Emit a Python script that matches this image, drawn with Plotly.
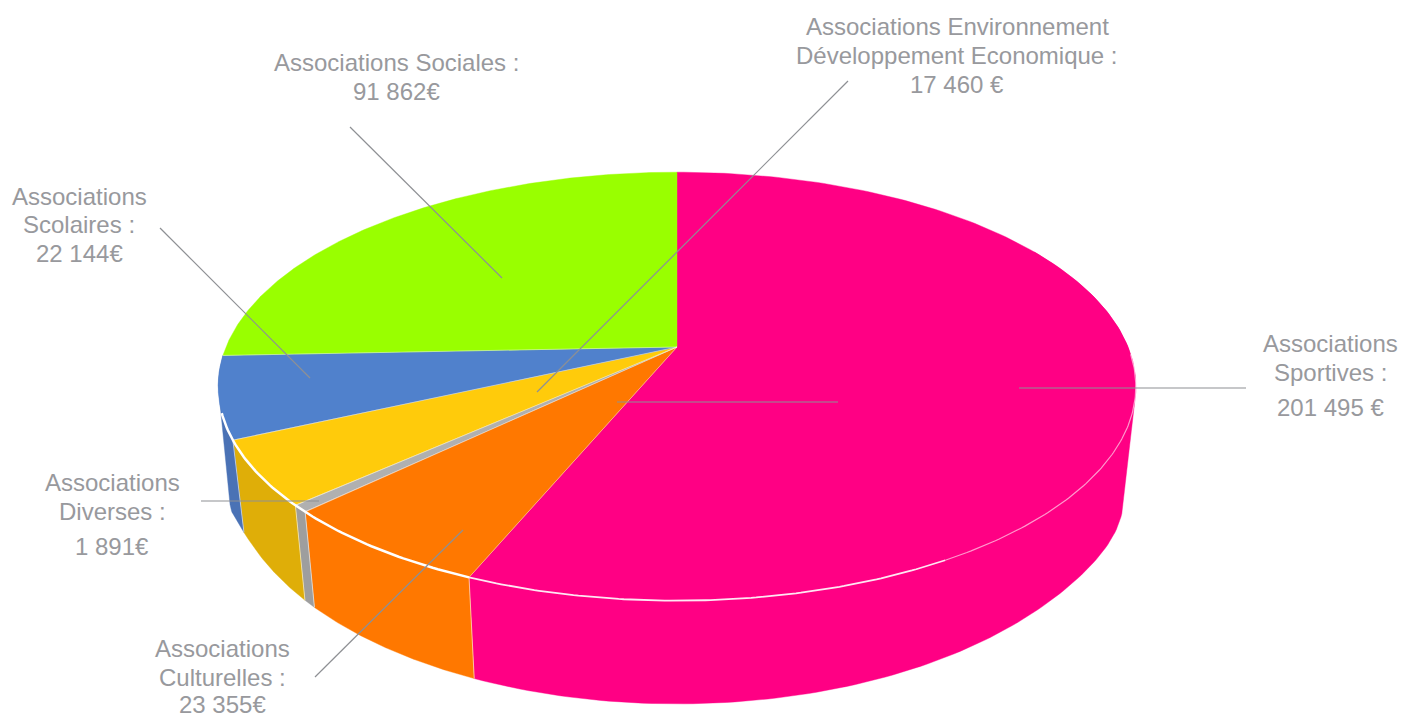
import numpy as np
import plotly.graph_objects as go

# ---- data ----
categories = ["Associations Sportives", "Associations Culturelles", "Associations Diverses",
              "Associations Environnement Développement Economique",
              "Associations Scolaires", "Associations Sociales"]
values = [201495, 23355, 1891, 17460, 22144, 91862]
top_colors = ["#FF0084", "#FF7800", "#B0B0B0", "#FFCB0B", "#5081CC", "#99FF00"]
side_colors = ["#FF0084", "#FF7800", "#9E9E9E", "#DFAE08", "#4A72B5", "#99FF00"]
label_lines = [
    (["Associations", "Sportives :", "201 495 €"], 1330, [343, 372, 407]),
    (["Associations", "Culturelles :", "23 355€"], 222, [648, 677, 704]),
    (["Associations", "Diverses :", "1 891€"], 112, [482, 511, 546]),
    (["Associations Environnement", "Développement Economique :", "17 460 €"], 957, [26, 55, 84]),
    (["Associations", "Scolaires :", "22 144€"], 79, [196, 224, 253]),
    (["Associations Sociales :", "91 862€"], 396, [62, 91]),
]
leaders = [
    (1019, 388, 1246, 388), (617, 402, 838, 402), (315, 677, 463, 530), (201, 501, 319, 501),
    (848, 81, 537, 392), (160, 228, 310, 378), (350, 127, 502, 278),
]

# ---- projection of the tilted disc ----
CX, CY, K, A, B = 677.0, 347.0, 0.184, 207.0, 451.0
XS, YS, YD = 0.975, 1.0875, 81.0


def top(deg):
    t = np.radians(deg)
    X, Y = np.sin(t), np.cos(t)
    w = 1 + K * Y
    return CX + B * X / w, CY - A * Y / w


def bottom(deg):
    x, y = top(deg)
    d = np.asarray(deg, dtype=float)
    bump = 20 * np.exp(-((d - 100) / 20) ** 2) + 26 * np.exp(-((d - 260) / 10) ** 2)
    return CX + (x - CX) * XS, CY + YD + (y - CY) * YS + bump


def hull(x, y):
    pts = sorted(set(zip(np.round(x, 2).tolist(), np.round(y, 2).tolist())))

    def half(seq):
        out = []
        for p in seq:
            while len(out) > 1 and (out[-1][0] - out[-2][0]) * (p[1] - out[-2][1]) - \
                    (out[-1][1] - out[-2][1]) * (p[0] - out[-2][0]) <= 0:
                out.pop()
            out.append(p)
        return out[:-1]
    h = half(pts) + half(pts[::-1])
    h.append(h[0])
    return [p[0] for p in h], [p[1] for p in h]


total = sum(values)
edges = np.concatenate([[0.0], np.cumsum(values) / total * 360.0])
fig = go.Figure()


def poly(x, y, color):
    fig.add_trace(go.Scatter(x=x, y=y, mode="lines", fill="toself", fillcolor=color,
                             line=dict(color=color, width=0.4), hoverinfo="skip", showlegend=False))


def line(x, y, color, width):
    fig.add_trace(go.Scatter(x=x, y=y, mode="lines", line=dict(color=color, width=width),
                             hoverinfo="skip", showlegend=False))


# sides
for i in range(len(values) - 1):
    a = np.linspace(max(edges[i], 60), edges[i + 1], 160)
    tx, ty = top(a)
    bx, by = bottom(a)
    hx, hy = hull(np.r_[tx, bx], np.r_[ty, by])
    poly(hx, hy, side_colors[i])
# side seams
for e in edges[1:-2]:
    tx, ty = top(e)
    bx, by = bottom(e)
    line([tx, bx], [ty, by], "rgba(255,255,255,0.7)", 0.8)
# top faces
for i in range(len(values)):
    a = np.linspace(edges[i], edges[i + 1], 200)
    tx, ty = top(a)
    poly(np.r_[CX, tx, CX], np.r_[CY, ty, CY], top_colors[i])
# separators on the top
for e in edges[1:-1]:
    tx, ty = top(e)
    line([CX, tx], [CY, ty], "rgba(255,255,255,0.5)", 0.8)
# white rim along the front
a = np.linspace(edges[1], edges[4] + 7, 80)
line(*top(a), "#FFFFFF", 2.5)
a = np.linspace(150, edges[1], 100)
line(*top(a), "rgba(255,255,255,0.9)", 1.8)
a = np.linspace(92, 150, 100)
line(*top(a), "rgba(255,255,255,0.6)", 1.2)

# leader lines
for x0, y0, x1, y1 in leaders:
    line([x0, x1], [y0, y1], "#8E9094", 1.2)

# labels
anns = []
for lines, cx, ys in label_lines:
    for txt, y in zip(lines, ys):
        anns.append(dict(x=cx, y=y, text=txt, showarrow=False, xanchor="center", yanchor="middle",
                         font=dict(family="Liberation Sans", size=24, color="#98999D")))

fig.update_layout(width=1402, height=713, margin=dict(l=0, r=0, t=0, b=0),
                  paper_bgcolor="#FFFFFF", plot_bgcolor="#FFFFFF", showlegend=False,
                  xaxis=dict(range=[0, 1402], visible=False, fixedrange=True),
                  yaxis=dict(range=[713, 0], visible=False, fixedrange=True),
                  annotations=anns)
fig.write_html("out.html", config={"displayModeBar": False},
               post_script="document.body.style.margin='0';document.body.style.overflow='hidden';")
